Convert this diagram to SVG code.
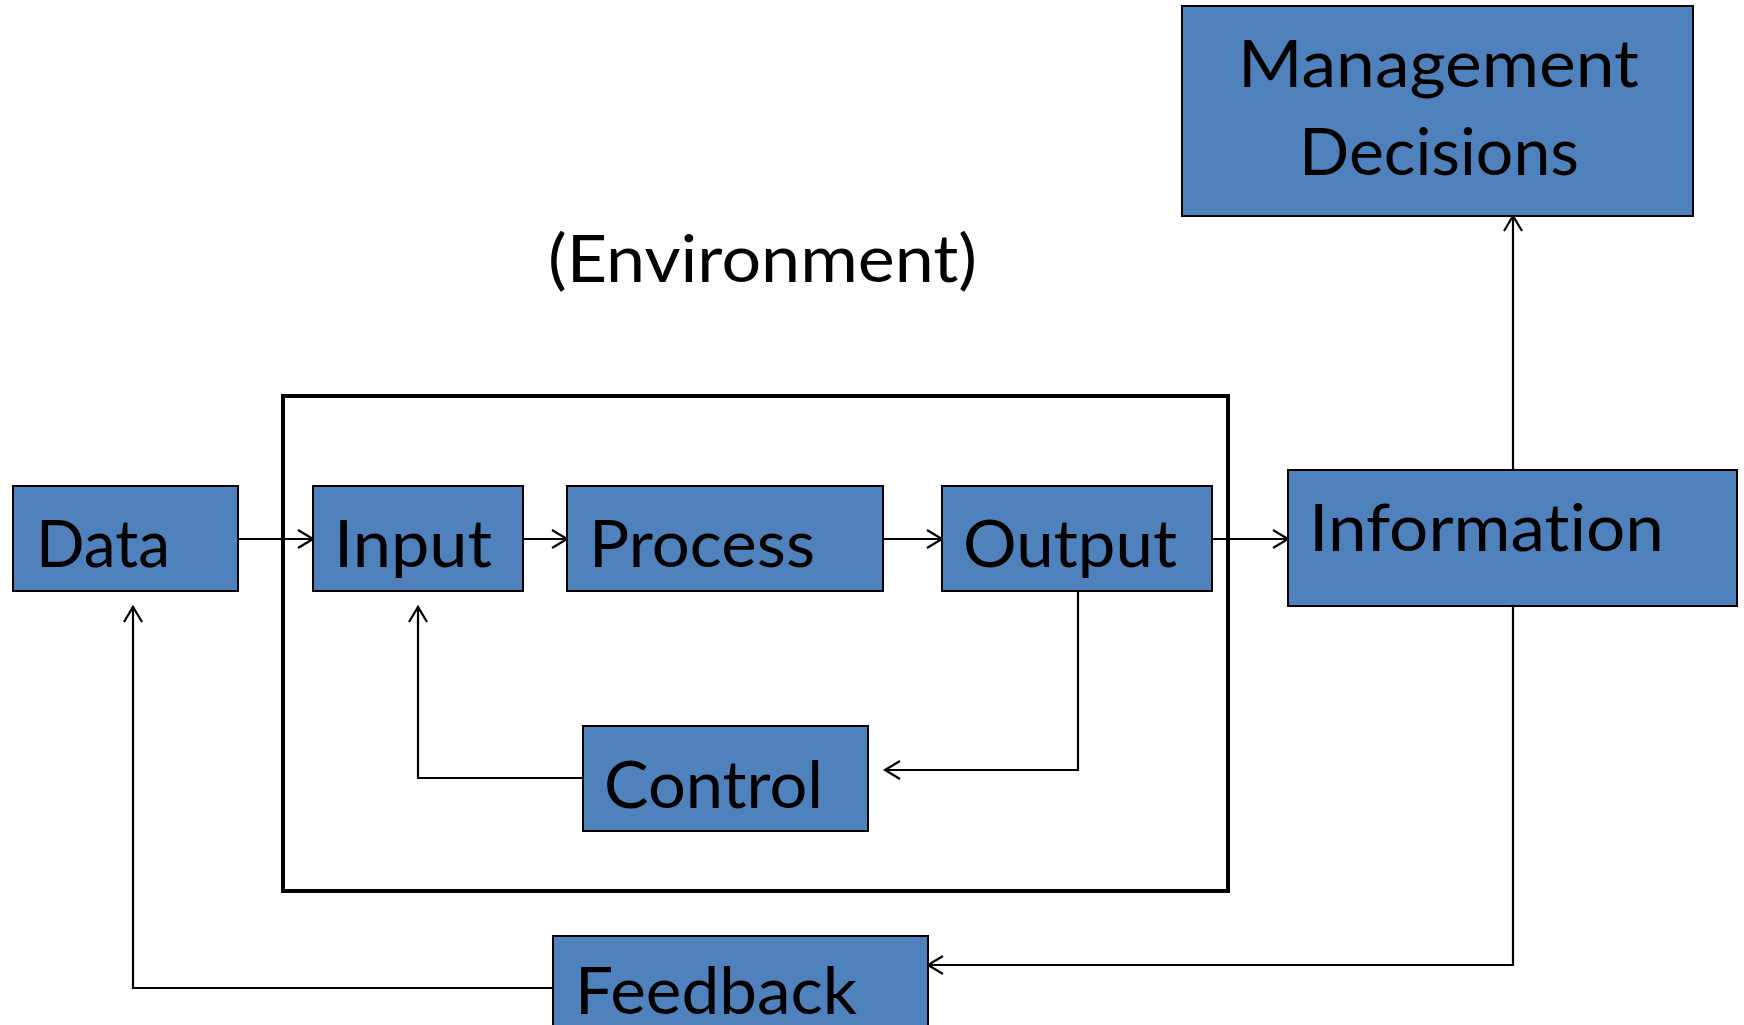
<svg xmlns="http://www.w3.org/2000/svg" width="1744" height="1025" viewBox="0 0 1744 1025">
<style>
.node rect{fill:#4F81BD;stroke:#000;stroke-width:2}
.lbl{font-family:Lato,"Open Sans",sans-serif;font-size:66px;fill:#000;font-variant-ligatures:none;font-feature-settings:"liga" 0}
.conn{fill:none;stroke:#000;stroke-width:2.2}
</style>
<defs>
<marker id="arr" viewBox="0 0 20 20" refX="17" refY="10" markerWidth="20" markerHeight="20" markerUnits="userSpaceOnUse" orient="auto">
<path d="M2,1 L17,10 L2,19" fill="none" stroke="#000" stroke-width="2.2"/>
</marker>
</defs>
<rect width="1744" height="1025" fill="#fff"/>
<g id="environment">
<rect x="283" y="396" width="945" height="495" fill="none" stroke="#000" stroke-width="4"/>
<text class="lbl" x="548" y="282" textLength="429" lengthAdjust="spacingAndGlyphs">(Environment)</text>
</g>
<g id="connectors">
<path class="conn" d="M238,539 H313" marker-end="url(#arr)"/>
<path class="conn" d="M523,539 H567" marker-end="url(#arr)"/>
<path class="conn" d="M883,539 H942" marker-end="url(#arr)"/>
<path class="conn" d="M1212,539 H1288" marker-end="url(#arr)"/>
<path class="conn" d="M1513,470 V216" marker-end="url(#arr)"/>
<path class="conn" d="M1078,591 V770 H885" marker-end="url(#arr)"/>
<path class="conn" d="M583,778 H418 V607" marker-end="url(#arr)"/>
<path class="conn" d="M1513,606 V965 H928" marker-end="url(#arr)"/>
<path class="conn" d="M553,988 H133 V607" marker-end="url(#arr)"/>
</g>
<g id="data" class="node"><rect x="13" y="486" width="225" height="105"/><text class="lbl" x="36" y="567" textLength="134" lengthAdjust="spacingAndGlyphs">Data</text></g>
<g id="input" class="node"><rect x="313" y="486" width="210" height="105"/><text class="lbl" x="334" y="567" textLength="158" lengthAdjust="spacingAndGlyphs">Input</text></g>
<g id="process" class="node"><rect x="567" y="486" width="316" height="105"/><text class="lbl" x="589" y="567" textLength="226" lengthAdjust="spacingAndGlyphs">Process</text></g>
<g id="output" class="node"><rect x="942" y="486" width="270" height="105"/><text class="lbl" x="963" y="567" textLength="214" lengthAdjust="spacingAndGlyphs">Output</text></g>
<g id="information" class="node"><rect x="1288" y="470" width="449" height="136"/><text class="lbl" x="1309" y="551" textLength="355" lengthAdjust="spacingAndGlyphs">Information</text></g>
<g id="management" class="node"><rect x="1182" y="6" width="511" height="210"/><text class="lbl" x="1238" y="87" textLength="401" lengthAdjust="spacingAndGlyphs">Management</text><text class="lbl" x="1299" y="175" textLength="280" lengthAdjust="spacingAndGlyphs">Decisions</text></g>
<g id="control" class="node"><rect x="583" y="726" width="285" height="105"/><text class="lbl" x="604" y="808" textLength="219" lengthAdjust="spacingAndGlyphs">Control</text></g>
<g id="feedback" class="node"><rect x="553" y="936" width="375" height="110"/><text class="lbl" x="575" y="1014" textLength="282" lengthAdjust="spacingAndGlyphs">Feedback</text></g>
</svg>
